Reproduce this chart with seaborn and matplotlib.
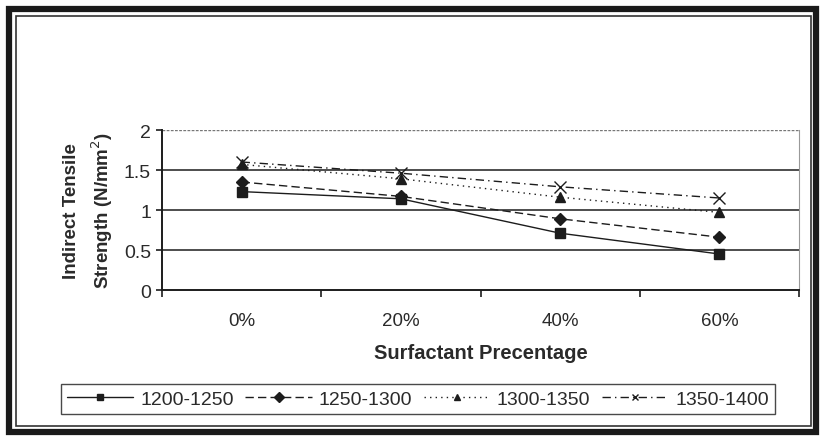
import matplotlib
matplotlib.use("Agg")
import matplotlib.pyplot as plt
import seaborn as sns
import pandas as pd
from matplotlib.patches import Rectangle

categories = ["0%", "20%", "40%", "60%"]
series_names = ["1200-1250", "1250-1300", "1300-1350", "1350-1400"]
s1200_1250 = [1.23, 1.14, 0.71, 0.45]
s1250_1300 = [1.35, 1.17, 0.89, 0.66]
s1300_1350 = [1.57, 1.39, 1.16, 0.97]
s1350_1400 = [1.60, 1.46, 1.29, 1.15]
y_ticks = [0, 0.5, 1, 1.5, 2]
y_tick_labels = ["0", "0.5", "1", "1.5", "2"]

values = [s1200_1250, s1250_1300, s1300_1350, s1350_1400]

sns.set_theme(style="white")
plt.rcParams["font.family"] = ["Liberation Sans", "DejaVu Sans"]

fig = plt.figure(figsize=(8.23, 4.39), dpi=100)
W, H = 823, 439
ax = fig.add_axes([162 / W, 1 - 291 / H, (799 - 162) / W, (291 - 131) / H])

INK = "#1c1c1c"
styles = {
    "1200-1250": dict(ls="-", marker="s", ms=7),
    "1250-1300": dict(ls=(0, (6, 3)), marker="D", ms=6),
    "1300-1350": dict(ls=(0, (1, 3)), marker="^", ms=7),
    "1350-1400": dict(ls=(0, (6, 3, 1, 3)), marker="x", ms=8),
}

for name, vals in zip(series_names, values):
    d = pd.DataFrame({"cat": categories, "val": vals})
    st = styles[name]
    sns.lineplot(data=d, x="cat", y="val", ax=ax, color=INK,
                 linestyle=st["ls"], marker=st["marker"], markersize=st["ms"],
                 markeredgecolor=INK, markeredgewidth=1.0, linewidth=1.0, label=name)

ax.set_xlim(-0.5, 3.5)
ax.set_ylim(0, 2)
ax.set_yticks(y_ticks)
ax.set_yticklabels(y_tick_labels)
ax.set_xticks(range(len(categories)))
ax.set_xticklabels(categories)
ax.set_xticks([-0.5, 0.5, 1.5, 2.5, 3.5], minor=True)
ax.tick_params(axis="x", which="major", length=0, pad=16, labelsize=13.5, colors="#2a2a2a")
ax.tick_params(axis="x", which="minor", length=5, width=1.2, color=INK, direction="out", bottom=True)
ax.tick_params(axis="y", which="major", length=4, width=1.2, color=INK, labelsize=14,
               colors="#2a2a2a", pad=4, left=True)

for y in [0.5, 1, 1.5]:
    ax.axhline(y, color=INK, lw=1.1, zorder=0)
ax.axhline(2, color="#777777", lw=1.0, ls=(0, (2, 1)), zorder=0)

ax.spines["left"].set_color(INK)
ax.spines["left"].set_linewidth(1.4)
ax.spines["bottom"].set_color(INK)
ax.spines["bottom"].set_linewidth(1.4)
ax.spines["top"].set_visible(False)
ax.spines["right"].set_color("#999999")
ax.spines["right"].set_linewidth(0.8)

ax.set_xlabel("Surfactant Precentage", fontsize=14.5, color="#2a2a2a", fontweight="bold", labelpad=10)
ax.set_ylabel("Indirect Tensile\nStrength (N/mm$^2$)", fontsize=13.5, color="#2a2a2a",
              fontweight="bold", labelpad=6, linespacing=1.5)

handles, labels = ax.get_legend_handles_labels()
if ax.legend_ is not None:
    ax.legend_.remove()
leg = fig.legend(handles, labels, loc="center", bbox_to_anchor=(418 / W, 1 - 400 / H),
                 ncol=4, frameon=True, fancybox=False, edgecolor=INK,
                 fontsize=14, handlelength=3.4, columnspacing=0.6, handletextpad=0.36,
                 borderpad=0.3, borderaxespad=0)
leg.get_frame().set_linewidth(1.0)
for t in leg.get_texts():
    t.set_color("#2a2a2a")
for h in leg.legend_handles:
    h.set_markersize(5)

# outer frame
fig.patches.append(Rectangle((9 / W, 1 - 433 / H), (816 - 9) / W, (433 - 10) / H,
                             transform=fig.transFigure, fill=False, lw=4.5, ec="#1a1a1a"))
fig.patches.append(Rectangle((16 / W, 1 - 427 / H), (811 - 16) / W, (427 - 17) / H,
                             transform=fig.transFigure, fill=False, lw=1.2, ec="#333333"))

fig.savefig("out.png", dpi=100, facecolor="white")
